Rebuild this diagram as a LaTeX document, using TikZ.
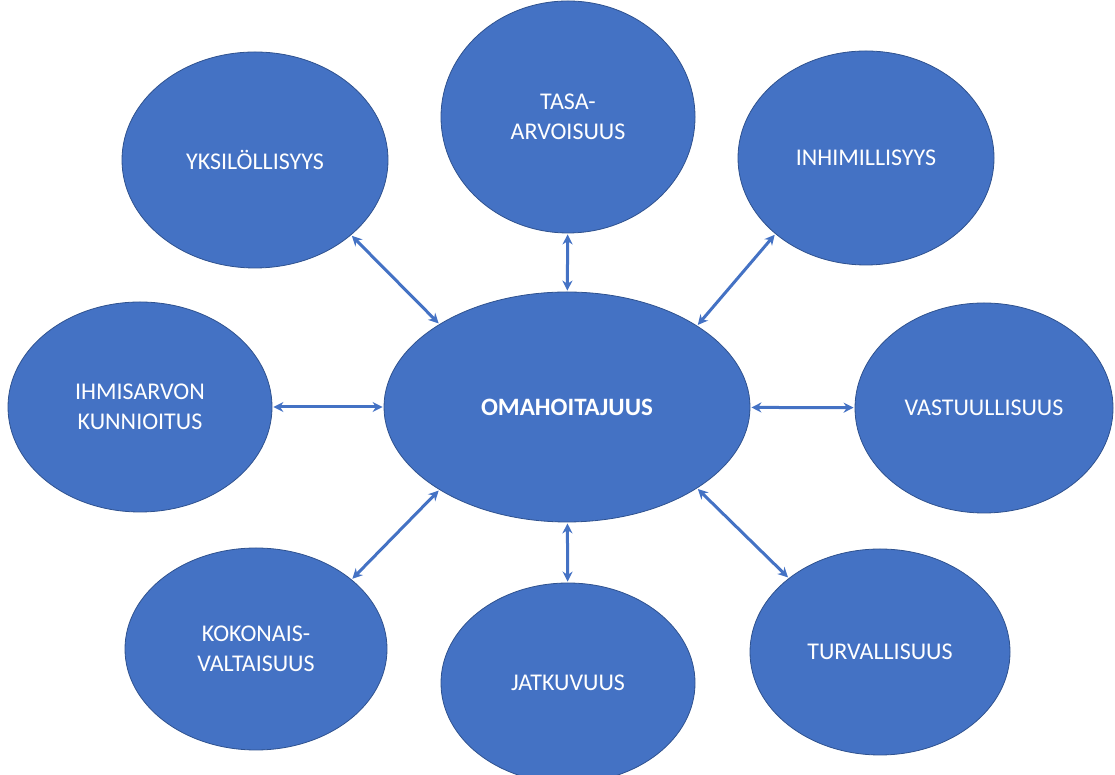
\documentclass[tikz,border=0pt]{standalone}
\usepackage{fontspec}
\setmainfont{Carlito}
\usetikzlibrary{shapes.geometric,arrows.meta}
\definecolor{obl}{HTML}{4472C4}
\definecolor{obd}{HTML}{2F528F}
\tikzset{
  bub/.style={ellipse, fill=obl, draw=obd, line width=0.8pt, inner sep=0pt,
    text=white, align=center, font=\fontsize{24}{30}\selectfont},
  link/.style={draw=obl, line width=3pt, {Stealth[length=10pt,width=10pt]}-{Stealth[length=10pt,width=10pt]}, shorten <=1pt, shorten >=1pt}
}
\begin{document}
\begin{tikzpicture}[x=1pt,y=1pt]
\useasboundingbox (0,0) rectangle (1115,775);
\node[bub, minimum width=366pt, minimum height=230pt, font=\fontsize{25}{30}\selectfont\bfseries] (c) at (567,368) {OMAHOITAJUUS};
\node[bub, minimum width=254pt, minimum height=232pt] (t) at (568,658) {TASA-\\ARVOISUUS};
\node[bub, minimum width=266pt, minimum height=216pt] (y) at (255,615) {YKSILÖLLISYYS};
\node[bub, minimum width=256pt, minimum height=214pt] (i) at (866,617) {INHIMILLISYYS};
\node[bub, minimum width=264pt, minimum height=210pt] (h) at (140,368) {IHMISARVON\\KUNNIOITUS};
\node[bub, minimum width=258pt, minimum height=210pt] (v) at (984,367) {VASTUULLISUUS};
\node[bub, minimum width=262pt, minimum height=202pt] (k) at (256,126) {KOKONAIS-\\VALTAISUUS};
\node[bub, minimum width=254pt, minimum height=200pt] (j) at (568,92) {JATKUVUUS};
\node[bub, minimum width=260pt, minimum height=206pt] (u) at (880,123) {TURVALLISUUS};
\draw[link] (y.-38.7) -- (c.147);
\draw[link] (t) -- (c);
\draw[link] (i.220.6) -- (c.32.2);
\draw[link] (h) -- (c);
\draw[link] (v) -- (c);
\draw[link] (k.36.7) -- (c.213);
\draw[link] (j) -- (c);
\draw[link] (u.141.5) -- (c.328);
\end{tikzpicture}
\end{document}
